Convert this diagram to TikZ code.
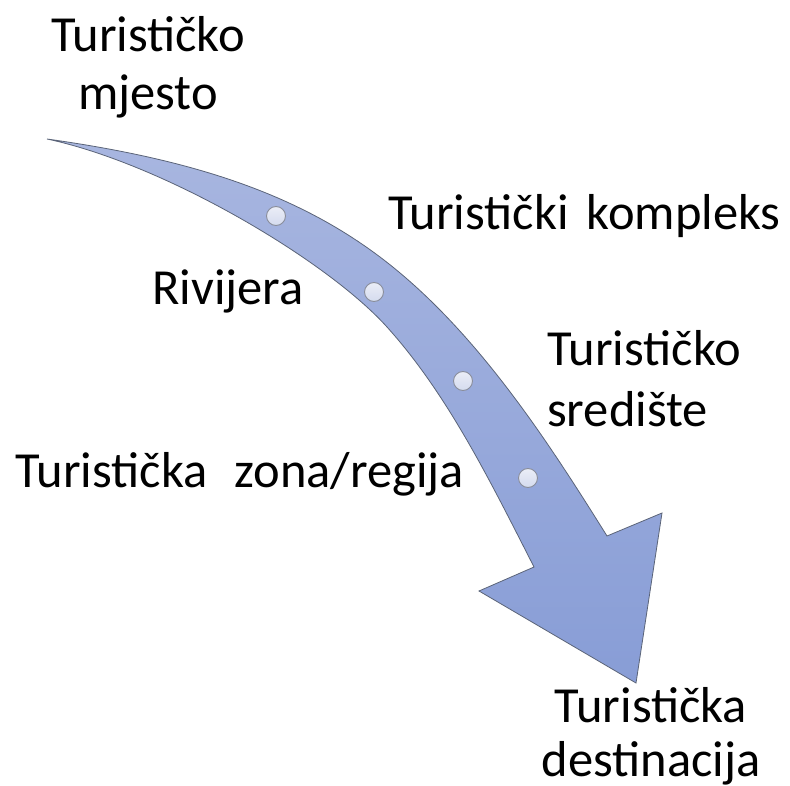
\documentclass[tikz,border=0pt]{standalone}
\usepackage{fontspec}
\setmainfont{Carlito}
\definecolor{arrTop}{HTML}{A8B6E0}
\definecolor{arrBot}{HTML}{889DD6}
\definecolor{arrLine}{HTML}{5B6478}
\definecolor{dotFill}{HTML}{DDE2F1}
\definecolor{dotLine}{HTML}{8A8E9C}
\tikzset{
  lbl/.style={inner sep=0pt, text=black},
  dot/.style={circle, minimum size=19pt, inner sep=0pt, draw=dotLine, line width=0.9pt, top color=white!40!dotFill, bottom color=dotFill!90!arrBot},
}
\newcommand{\lblfont}[1]{\fontsize{50.5}{#1}\selectfont}
\begin{document}
\begin{tikzpicture}[x=1pt,y=-1pt]
\useasboundingbox (0,0) rectangle (790,786);
% arrow body
\path[draw=arrLine, line width=0.8pt, top color=arrTop, bottom color=arrBot, line join=miter]
  (47,139) .. controls (185.6,158.5) and (292.1,190.8) .. (380,257)
  .. controls (475.8,329.2) and (548.7,442.7) .. (607,536)
  -- (662,513) -- (636,683) -- (479,591) -- (534,567)
  .. controls (488.6,477.9) and (447.2,393.9) .. (387,327)
  .. controls (326.8,260.1) and (164.4,164) .. (47,139)
  -- cycle;
% dots
\node[dot] (d1) at (276,216) {};
\node[dot] (d2) at (374,292) {};
\node[dot] (d3) at (463,381) {};
\node[dot] (d4) at (528,478) {};
% labels
\node[lbl, font=\lblfont{58}, align=center, anchor=base] (mjesto) at (148,110) {Turističko\\mjesto};
\node[lbl, font=\lblfont{60}, anchor=base west] (kompleks) at (388,230) {Turistički\hspace{7pt} kompleks};
\node[lbl, font=\lblfont{60}, anchor=base west] (rivijera) at (152,305) {Rivijera};
\node[lbl, font=\lblfont{61}, align=left, anchor=base west] (srediste) at (547,426) {Turističko\\središte};
\node[lbl, font=\lblfont{60}, anchor=base west] (zona) at (15,487) {Turistička\hspace{16pt} zona/regija};
\node[lbl, font=\lblfont{54}, align=center, anchor=base] (destinacija) at (651,776) {Turistička\\destinacija};
\end{tikzpicture}
\end{document}
